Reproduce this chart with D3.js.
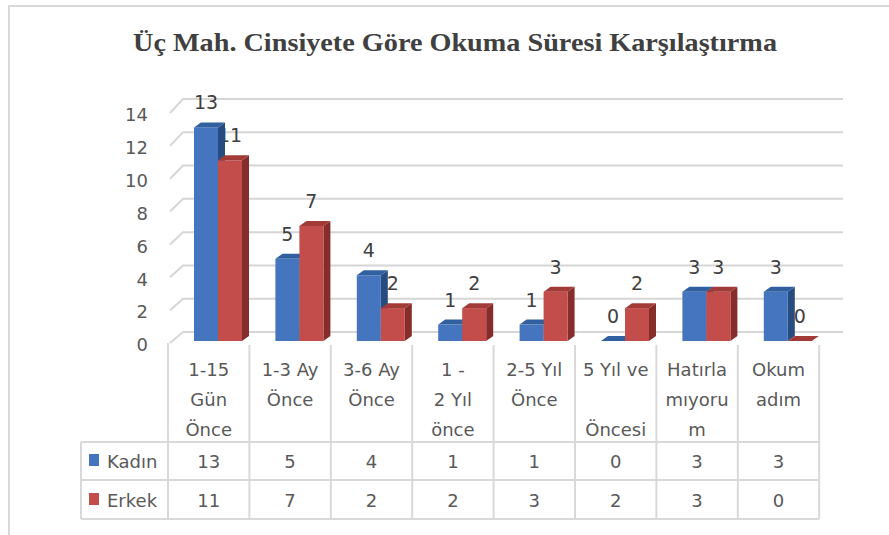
<!DOCTYPE html>
<html>
<head>
<meta charset="utf-8">
<script src="https://cdn.jsdelivr.net/npm/d3@7"></script>
<style>
html,body{margin:0;padding:0;background:#fff;}
svg{display:block;}
</style>
</head>
<body>
<svg id="chart" width="889" height="535"></svg>
<script>
// ---- data ----
const title = "Üç Mah. Cinsiyete Göre Okuma Süresi Karşılaştırma";
const categoryLines = [
  ["1-15", "Gün", "Önce"],
  ["1-3 Ay", "Önce", ""],
  ["3-6 Ay", "Önce", ""],
  ["1 -", "2 Yıl", "önce"],
  ["2-5 Yıl", "Önce", ""],
  ["5 Yıl ve", "", "Öncesi"],
  ["Hatırla", "mıyoru", "m"],
  ["Okum", "adım", ""]
];
const seriesNames = ["Kadın", "Erkek"];
const kadin = [13, 5, 4, 1, 1, 0, 3, 3];
const erkek = [11, 7, 2, 2, 3, 2, 3, 0];
const yTicks = [0, 2, 4, 6, 8, 10, 12, 14];

// ---- styles ----
const FONT = "'DejaVu Sans', sans-serif";
const colors = {
  Kadın: {front: "#4475BE", top: "#30609F", side: "#264C80"},
  Erkek: {front: "#C24D4A", top: "#A23B38", side: "#862C2A"}
};
const gridColor = "#d6d6d6";
const lineColor = "#d9d9d9";

const svg = d3.select("#chart");
const series = [kadin, erkek];

// ---- scales ----
const x = d3.scaleBand().domain(d3.range(categoryLines.length)).range([168, 819.2]);
const xs = d3.scaleBand().domain(seriesNames).range([26, 74]);
const yFront = d3.scaleLinear().domain([0, 14]).range([341, 111]);
const yBack = d3.scaleLinear().domain([0, 14]).range([332, 99]);
const yDiag = d3.scaleLinear().domain([0, 14]).range([343, 113]);
const yLab = d3.scaleLinear().domain([0, 14]).range([345, 115]);
const DX = 7, DY = -5;
const backX0 = 183, backX1 = 843, diagX = 170;

// outer border
svg.append("path")
  .attr("d", "M9,535 L9,6 L889,6")
  .attr("fill", "none").attr("stroke", lineColor).attr("stroke-width", 2);

// title
svg.append("text")
  .attr("x", 455).attr("y", 51)
  .attr("text-anchor", "middle")
  .attr("font-family", "'Liberation Serif', serif")
  .attr("font-weight", "bold")
  .attr("font-size", 26)
  .attr("fill", "#404040")
  .attr("textLength", 644)
  .attr("lengthAdjust", "spacingAndGlyphs")
  .text(title);

// gridlines (3D wall)
const grid = svg.append("g");
yTicks.forEach(v => {
  grid.append("path")
    .attr("d", `M${diagX},${yDiag(v)} L${backX0},${yBack(v)} L${backX1},${yBack(v)}`)
    .attr("fill", "none").attr("stroke", gridColor).attr("stroke-width", 2);
});

// y axis labels
const yAxis = d3.axisLeft(yLab).tickValues(yTicks).tickSize(0).tickPadding(0);
const ya = svg.append("g").attr("transform", "translate(148,0)").call(yAxis);
ya.select(".domain").remove();
ya.selectAll("text")
  .attr("font-family", FONT).attr("font-size", 18).attr("fill", "#595959");

// table lines
const tbl = svg.append("g").attr("stroke", lineColor).attr("stroke-width", 2).attr("fill", "none");
const cols = d3.range(categoryLines.length + 1).map(i => i < categoryLines.length ? x(i) : x.range()[1]);
cols.forEach((cx, i) => {
  tbl.append("line").attr("x1", cx).attr("x2", cx)
    .attr("y1", i === 0 ? 343 : 345).attr("y2", 519);
});
tbl.append("line").attr("x1", 81).attr("x2", 81).attr("y1", 442).attr("y2", 519);
[442, 480, 519].forEach(yy => {
  tbl.append("line").attr("x1", 81).attr("x2", x.range()[1]).attr("y1", yy).attr("y2", yy);
});

// category labels
const lineBase = [376, 406, 436];
categoryLines.forEach((lines, i) => {
  lines.forEach((t, k) => {
    if (!t) return;
    svg.append("text")
      .attr("x", x(i) + x.bandwidth() / 2).attr("y", lineBase[k])
      .attr("text-anchor", "middle")
      .attr("font-family", FONT).attr("font-size", 18).attr("fill", "#595959")
      .text(t);
  });
});

// legend rows
const rowCenters = [461, 500];
seriesNames.forEach((name, s) => {
  svg.append("rect")
    .attr("x", 89).attr("y", rowCenters[s] - 7).attr("width", 10).attr("height", 12)
    .attr("fill", colors[name].front);
  svg.append("text")
    .attr("x", 107).attr("y", rowCenters[s] + 6.5)
    .attr("font-family", FONT).attr("font-size", 18).attr("fill", "#595959")
    .text(name);
  series[s].forEach((v, i) => {
    svg.append("text")
      .attr("x", x(i) + x.bandwidth() / 2).attr("y", rowCenters[s] + 6.5)
      .attr("text-anchor", "middle")
      .attr("font-family", FONT).attr("font-size", 18).attr("fill", "#595959")
      .text(v);
  });
});

// data labels helper
function drawLabels(s) {
  const name = seriesNames[s];
  series[s].forEach((v, i) => {
    const x0 = x(i) + xs(name);
    svg.append("text")
      .attr("x", x0 + xs.bandwidth() / 2).attr("y", yFront(v) - 25 + 7)
      .attr("text-anchor", "middle")
      .attr("font-family", FONT).attr("font-size", 19).attr("fill", "#404040")
      .text(v);
  });
}

// red labels first (partly hidden by blue bars, as in reference)
drawLabels(1);

// bars
const bars = svg.append("g");
categoryLines.forEach((_, i) => {
  seriesNames.forEach((name, s) => {
    const v = series[s][i];
    const x0 = x(i) + xs(name), x1 = x0 + xs.bandwidth();
    const yt = yFront(v), yb = yFront(0);
    const c = colors[name];
    const g = bars.append("g");
    if (v > 0) {
      g.append("path")
        .attr("d", `M${x1},${yt} L${x1 + DX},${yt + DY} L${x1 + DX},${yb + DY} L${x1},${yb} Z`)
        .attr("fill", c.side);
      g.append("rect")
        .attr("x", x0).attr("y", yt).attr("width", x1 - x0).attr("height", yb - yt)
        .attr("fill", c.front);
    }
    g.append("path")
      .attr("d", `M${x0},${yt} L${x0 + DX},${yt + DY} L${x1 + DX},${yt + DY} L${x1},${yt} Z`)
      .attr("fill", c.top);
  });
});

drawLabels(0);
</script>
</body>
</html>
